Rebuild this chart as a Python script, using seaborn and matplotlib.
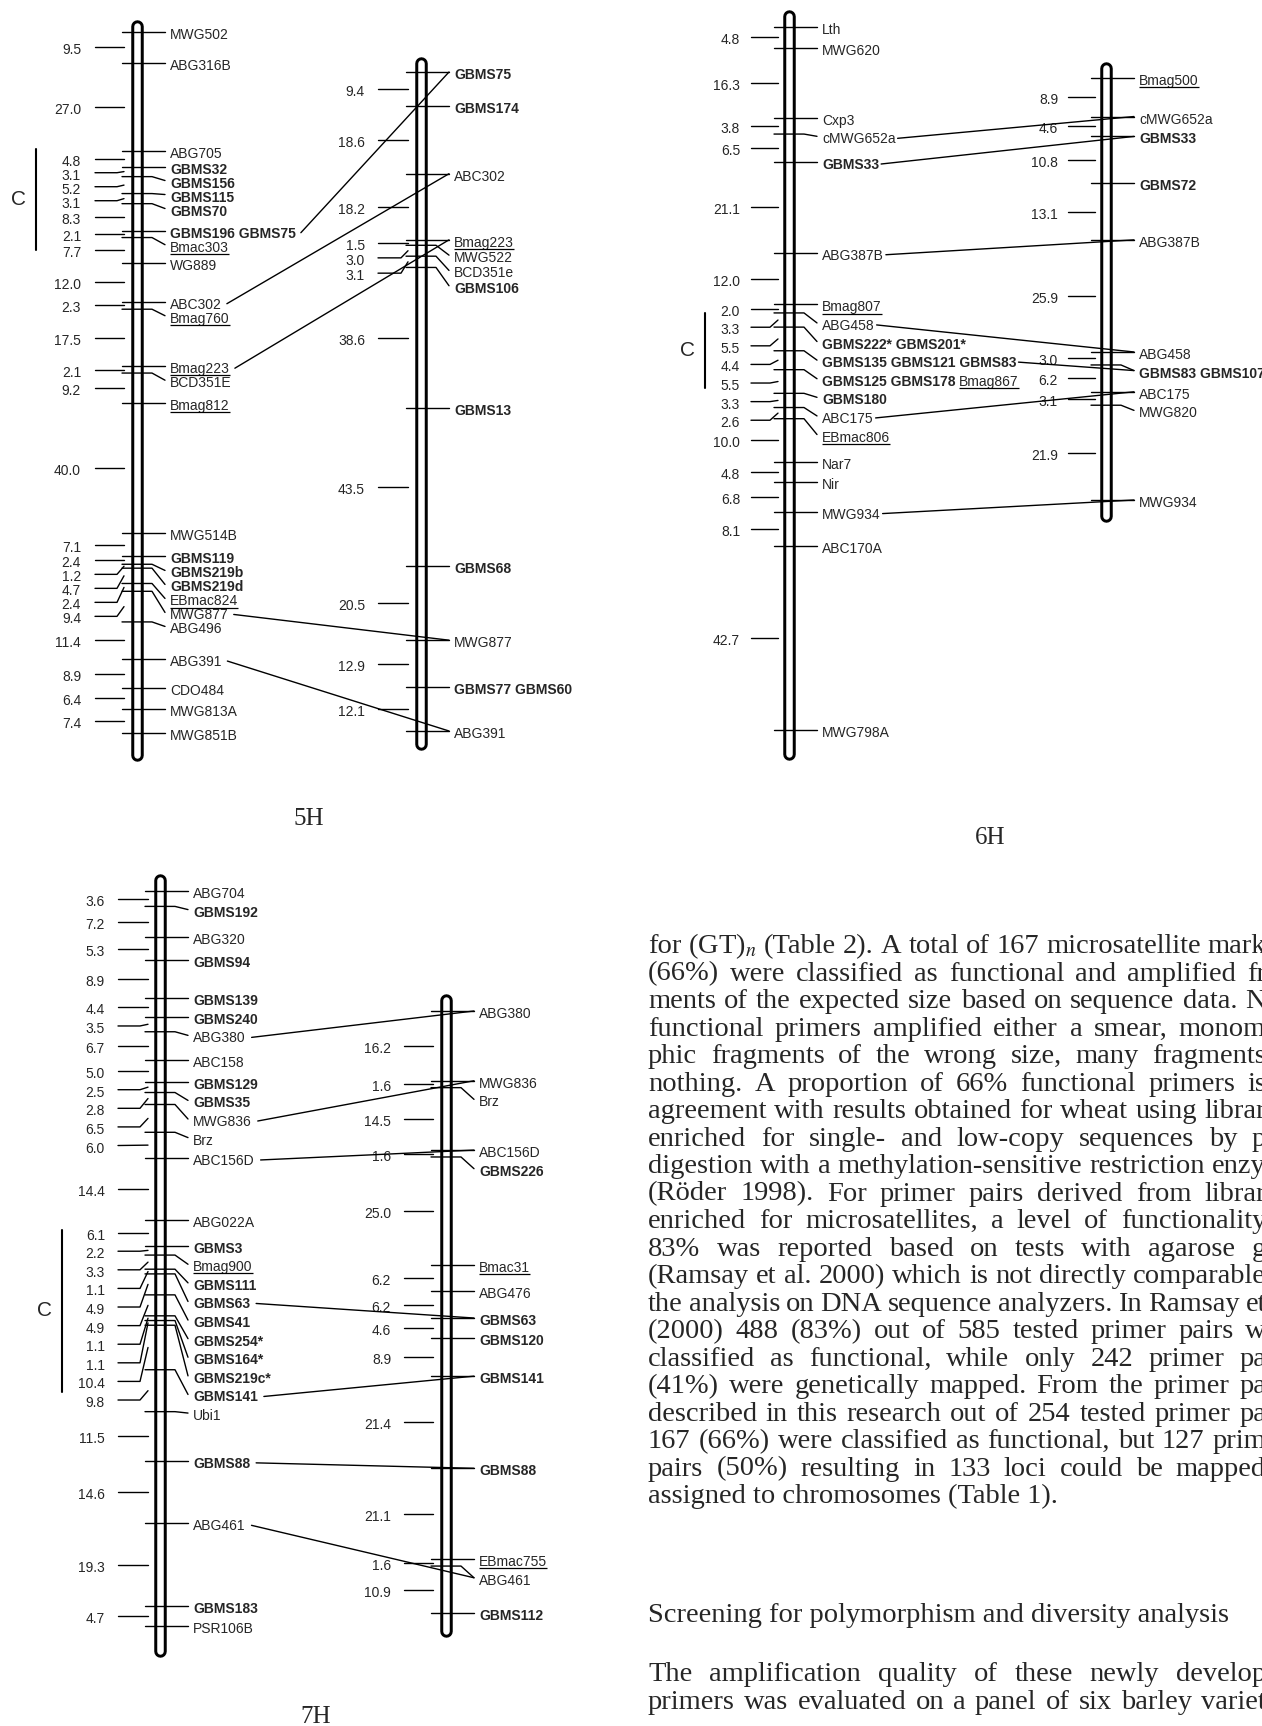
import numpy as np
import pandas as pd
import matplotlib
matplotlib.use("Agg")
import matplotlib.pyplot as plt
import seaborn as sns
from matplotlib.patches import ConnectionPatch

# ---------------------------------------------------------------- data
# 5H
h5_left_markers = ["MWG502", "ABG316B", "ABG705", "GBMS32", "GBMS156", "GBMS115", "GBMS70",
                   "GBMS196 GBMS75", "Bmac303", "WG889", "ABC302", "Bmag760", "Bmag223",
                   "BCD351E", "Bmag812", "MWG514B", "GBMS119", "GBMS219b", "GBMS219d",
                   "EBmac824", "MWG877", "ABG496", "ABG391", "CDO484", "MWG813A", "MWG851B"]
h5_left_styles = ["n", "n", "n", "b", "b", "b", "b", "bb", "u", "n", "n", "u", "u",
                  "n", "u", "n", "b", "b", "b", "u", "n", "n", "n", "n", "n", "n"]
h5_left_cM = [9.5, 27.0, 4.8, 3.1, 5.2, 3.1, 8.3, 2.1, 7.7, 12.0, 2.3, 17.5, 2.1, 9.2,
              40.0, 7.1, 2.4, 1.2, 4.7, 2.4, 9.4, 11.4, 8.9, 6.4, 7.4]
h5_right_markers = ["GBMS75", "GBMS174", "ABC302", "Bmag223", "MWG522", "BCD351e", "GBMS106",
                    "GBMS13", "GBMS68", "MWG877", "GBMS77 GBMS60", "ABG391"]
h5_right_styles = ["b", "b", "n", "u", "n", "n", "b", "b", "b", "n", "bb", "n"]
h5_right_cM = [9.4, 18.6, 18.2, 1.5, 3.0, 3.1, 38.6, 43.5, 20.5, 12.9, 12.1]
h5_links = [("GBMS196 GBMS75", "GBMS75"), ("ABC302", "ABC302"), ("Bmag223", "Bmag223"),
            ("MWG877", "MWG877"), ("ABG391", "ABG391")]
h5_centromere = [35.9, 66.9]

# 6H
h6_left_markers = ["Lth", "MWG620", "Cxp3", "cMWG652a", "GBMS33", "ABG387B", "Bmag807", "ABG458",
                   "GBMS222* GBMS201*", "GBMS135 GBMS121 GBMS83", "GBMS125 GBMS178 Bmag867",
                   "GBMS180", "ABC175", "EBmac806", "Nar7", "Nir", "MWG934", "ABC170A", "MWG798A"]
h6_left_styles = ["n", "n", "n", "n", "b", "n", "u", "n", "bb", "bbb", "bbu", "b", "n", "u",
                  "n", "n", "n", "n", "n"]
h6_left_cM = [4.8, 16.3, 3.8, 6.5, 21.1, 12.0, 2.0, 3.3, 5.5, 4.4, 5.5, 3.3, 2.6, 10.0,
              4.8, 6.8, 8.1, 42.7]
h6_right_markers = ["Bmag500", "cMWG652a", "GBMS33", "GBMS72", "ABG387B", "ABG458",
                    "GBMS83 GBMS107", "ABC175", "MWG820", "MWG934"]
h6_right_styles = ["u", "n", "b", "b", "n", "n", "bb", "n", "n", "n"]
h6_right_cM = [8.9, 4.6, 10.8, 13.1, 25.9, 3.0, 6.2, 3.1, 21.9]
h6_links = [("cMWG652a", "cMWG652a"), ("GBMS33", "GBMS33"), ("ABG387B", "ABG387B"),
            ("ABG458", "ABG458"), ("GBMS135 GBMS121 GBMS83", "GBMS83 GBMS107"),
            ("ABC175", "ABC175"), ("MWG934", "MWG934")]
h6_centromere = [66.5, 84.0]

# 7H
h7_left_markers = ["ABG704", "GBMS192", "ABG320", "GBMS94", "GBMS139", "GBMS240", "ABG380",
                   "ABC158", "GBMS129", "GBMS35", "MWG836", "Brz", "ABC156D", "ABG022A",
                   "GBMS3", "Bmag900", "GBMS111", "GBMS63", "GBMS41", "GBMS254*", "GBMS164*",
                   "GBMS219c*", "GBMS141", "Ubi1", "GBMS88", "ABG461", "GBMS183", "PSR106B"]
h7_left_styles = ["n", "b", "n", "b", "b", "b", "n", "n", "b", "b", "n", "n", "n", "n",
                  "b", "u", "b", "b", "b", "b", "b", "b", "b", "n", "b", "n", "b", "n"]
h7_left_cM = [3.6, 7.2, 5.3, 8.9, 4.4, 3.5, 6.7, 5.0, 2.5, 2.8, 6.5, 6.0, 14.4, 6.1, 2.2,
              3.3, 1.1, 4.9, 4.9, 1.1, 1.1, 10.4, 9.8, 11.5, 14.6, 19.3, 4.7]
h7_right_markers = ["ABG380", "MWG836", "Brz", "ABC156D", "GBMS226", "Bmac31", "ABG476",
                    "GBMS63", "GBMS120", "GBMS141", "GBMS88", "EBmac755", "ABG461", "GBMS112"]
h7_right_styles = ["n", "n", "n", "n", "b", "u", "n", "b", "b", "b", "b", "u", "n", "b"]
h7_right_cM = [16.2, 1.6, 14.5, 1.6, 25.0, 6.2, 6.2, 4.6, 8.9, 21.4, 21.1, 1.6, 10.9]
h7_links = [("ABG380", "ABG380"), ("MWG836", "MWG836"), ("ABC156D", "ABC156D"),
            ("GBMS63", "GBMS63"), ("GBMS141", "GBMS141"), ("GBMS88", "GBMS88"),
            ("ABG461", "ABG461")]
h7_centromere = [79.2, 117.1]

panel_titles = ["5H", "6H", "7H"]

body_lines = [
    "for (GT)$_n$ (Table 2). A total of 167 microsatellite mark",
    "(66%) were classified as functional and amplified fr",
    "ments of the expected size based on sequence data. N",
    "functional primers amplified either a smear, monom",
    "phic fragments of the wrong size, many fragments",
    "nothing. A proportion of 66% functional primers is",
    "agreement with results obtained for wheat using librar",
    "enriched for single- and low-copy sequences by p",
    "digestion with a methylation-sensitive restriction enzy",
    "(Röder 1998). For primer pairs derived from librar",
    "enriched for microsatellites, a level of functionality",
    "83% was reported based on tests with agarose g",
    "(Ramsay et al. 2000) which is not directly comparable",
    "the analysis on DNA sequence analyzers. In Ramsay et",
    "(2000) 488 (83%) out of 585 tested primer pairs w",
    "classified as functional, while only 242 primer pa",
    "(41%) were genetically mapped. From the primer pa",
    "described in this research out of 254 tested primer pa",
    "167 (66%) were classified as functional, but 127 prim",
    "pairs (50%) resulting in 133 loci could be mapped",
    "assigned to chromosomes (Table 1).",
]
heading = "Screening for polymorphism and diversity analysis"
body_lines2 = [
    "The amplification quality of these newly develop",
    "primers was evaluated on a panel of six barley variet",
]

# ---------------------------------------------------------------- style / layout
sns.set_theme(style="white")
plt.rcParams["font.family"] = ["Liberation Sans", "DejaVu Sans"]
plt.rcParams["mathtext.fontset"] = "stix"
SERIF = ["Liberation Serif", "DejaVu Serif"]

W, H = 1262, 1726
fig = plt.figure(figsize=(W / 100, H / 100), dpi=100)
fig.patch.set_facecolor("white")
renderer = fig.canvas.get_renderer()

FS = 10.0
SPACE = 0.278 * FS * 100 / 72
PT = 72 / 100  # points per pixel

LAY = {
    "5HL": dict(cx=137, y0=32, y1=733, top=6, bot=22, sp=14.0, dist=(-56, -42, -20, -13)),
    "5HR": dict(cx=421, y0=72, y1=731, top=9, bot=13, sp=15.3, dist=(-56, -43, -20, -13)),
    "6HL": dict(cx=789, y0=27, y1=730, top=11, bot=24, sp=18.6, dist=(-49, -38, -19, -11)),
    "6HR": dict(cx=1106, y0=78, y1=500, top=10, bot=16, sp=18.6, dist=(-48, -38, -19, -11)),
    "7HL": dict(cx=160, y0=891, y1=1626, top=11, bot=25, sp=18.6, dist=(-55, -42, -20, -12)),
    "7HR": dict(cx=446, y0=1011, y1=1613, top=11, bot=18, sp=18.6, dist=(-55, -42, -20, -13)),
}
XL, XR, PAD = -140, 320, 60

# full-figure axes for the running text and titles (pixel units)
axt = fig.add_axes([0, 0, 1, 1])
axt.set_xlim(0, W)
axt.set_ylim(H, 0)
axt.axis("off")


def pushdown(vals, s):
    out = []
    for v in vals:
        if out and v < out[-1] + s:
            v = out[-1] + s
        out.append(v)
    return np.array(out)


def draw_label(ax, x, yb, text, style, k):
    words = text.split(" ")
    groups = []
    for w, s in zip(words, style):
        if groups and groups[-1][1] == s:
            groups[-1][0].append(w)
        else:
            groups.append([[w], s])
    for ws, s in groups:
        txt = " ".join(ws)
        t = ax.text(x, yb, txt, fontsize=FS, fontweight="bold" if s == "b" else "normal",
                    ha="left", va="baseline", clip_on=False, zorder=5)
        w = t.get_window_extent(renderer=renderer).width
        if s == "u":
            ax.plot([x, x + w], [yb + 2.2 / k] * 2, color="black", lw=0.9,
                    solid_capstyle="butt", clip_on=False, zorder=5)
        x += w + SPACE
    return x - SPACE


def draw_chromosome(key, names, styles, cM):
    lay = LAY[key]
    assert len(names) == len(styles) == len(cM) + 1
    L = float(np.sum(cM))
    k = (lay["y1"] - lay["y0"]) / L
    rect = [(lay["cx"] + XL) / W, 1 - (lay["y1"] + PAD) / H, (XR - XL) / W,
            (lay["y1"] - lay["y0"] + 2 * PAD) / H]
    ax = fig.add_axes(rect)
    ax.axis("off")
    ax.patch.set_visible(False)

    pos = np.concatenate([[0.0], np.cumsum(cM)])
    mids = (pos[:-1] + pos[1:]) / 2
    lab = pushdown(pos * k, lay["sp"]) / k
    dlab = pushdown(mids * k, lay["sp"]) / k

    # chromosome body
    top, bot = -lay["top"] / k, pos[-1] + lay["bot"] / k
    ax.plot([0, 0], [top, bot], color="black", lw=12.5 * PT, solid_capstyle="round", zorder=1)
    ax.plot([0, 0], [top, bot], color="white", lw=6.5 * PT, solid_capstyle="round", zorder=2)

    # marker ticks + leaders, interval leaders
    rows = []
    seg = 0
    for p, l in zip(pos, lab):
        for x, y in [(-15, p), (15, p), (28, l)]:
            rows.append((x, y, seg))
        seg += 1
    tx, x0, xb, x1 = lay["dist"]
    for m, d in zip(mids, dlab):
        pts = [(x0, d), (x1, m)] if abs(m - d) * k < 0.5 else [(x0, d), (xb, d), (x1, m)]
        for x, y in pts:
            rows.append((x, y, seg))
        seg += 1
    df = pd.DataFrame(rows, columns=["x", "y", "seg"])
    sns.lineplot(data=df, x="x", y="y", units="seg", estimator=None, sort=False,
                 color="black", linewidth=1.0, ax=ax, legend=False, zorder=3)

    ax.set_xlim(XL, XR)
    ax.set_ylim(L + PAD / k, -PAD / k)
    ax.axis("off")

    # labels
    ends = {}
    for name, st, l in zip(names, styles, lab):
        xe = draw_label(ax, 33, l + 7 / k, name, st, k)
        ends[name] = (xe, l)
    for v, d in zip(cM, dlab):
        ax.text(tx, d + 7 / k, f"{v:.1f}", fontsize=FS, ha="right", va="baseline",
                clip_on=False, zorder=5)
    return ax, k, ends


def centromere(ax, k, rng, bx):
    ax.plot([bx, bx], rng, color="black", lw=1.5, clip_on=False)
    ax.text(bx - 18, np.mean(rng), "C", fontsize=15, ha="center", va="center", clip_on=False)


def link(axL, kL, endsL, axR, endsR, links, gap):
    for a, b in links:
        xe, yl = endsL[a]
        _, yr = endsR[b]
        con = ConnectionPatch(xyA=(xe + gap, yl + 2 / kL), coordsA=axL.transData,
                              xyB=(28, yr), coordsB=axR.transData,
                              color="black", lw=1.0, zorder=4)
        fig.add_artist(con)


# 5H
a5L, k5L, e5L = draw_chromosome("5HL", h5_left_markers, h5_left_styles, h5_left_cM)
a5R, k5R, e5R = draw_chromosome("5HR", h5_right_markers, h5_right_styles, h5_right_cM)
centromere(a5L, k5L, h5_centromere, -101)
link(a5L, k5L, e5L, a5R, e5R, h5_links, 5)

# 6H
a6L, k6L, e6L = draw_chromosome("6HL", h6_left_markers, h6_left_styles, h6_left_cM)
a6R, k6R, e6R = draw_chromosome("6HR", h6_right_markers, h6_right_styles, h6_right_cM)
centromere(a6L, k6L, h6_centromere, -84)
link(a6L, k6L, e6L, a6R, e6R, h6_links, 2)

# 7H
a7L, k7L, e7L = draw_chromosome("7HL", h7_left_markers, h7_left_styles, h7_left_cM)
a7R, k7R, e7R = draw_chromosome("7HR", h7_right_markers, h7_right_styles, h7_right_cM)
centromere(a7L, k7L, h7_centromere, -98)
link(a7L, k7L, e7L, a7R, e7R, h7_links, 6)

# panel titles
for title, (x, y) in zip(panel_titles, [(309, 825), (990, 844), (316, 1723)]):
    axt.text(x, y, title, fontsize=18, family=SERIF, ha="center", va="baseline")

# running text
BFS = 20.5
X0, X1 = 648, 1266


def justified(line, y):
    words = line.split(" ")
    ts = [axt.text(0, y, w, fontsize=BFS, family=SERIF, ha="left", va="baseline")
          for w in words]
    widths = [t.get_window_extent(renderer=renderer).width for t in ts]
    gap = (X1 - X0 - sum(widths)) / max(len(words) - 1, 1)
    x = X0
    for t, w in zip(ts, widths):
        t.set_x(x)
        x += w + gap


for i, line in enumerate(body_lines):
    y = 953 + 27.5 * i
    if i == len(body_lines) - 1:
        axt.text(X0, y, line, fontsize=BFS, family=SERIF, ha="left", va="baseline")
    else:
        justified(line, y)
axt.text(X0, 1622, heading, fontsize=BFS, family=SERIF, ha="left", va="baseline")
for i, line in enumerate(body_lines2):
    justified(line, 1681 + 27.5 * i)

fig.savefig("out.png", dpi=100, facecolor="white")
